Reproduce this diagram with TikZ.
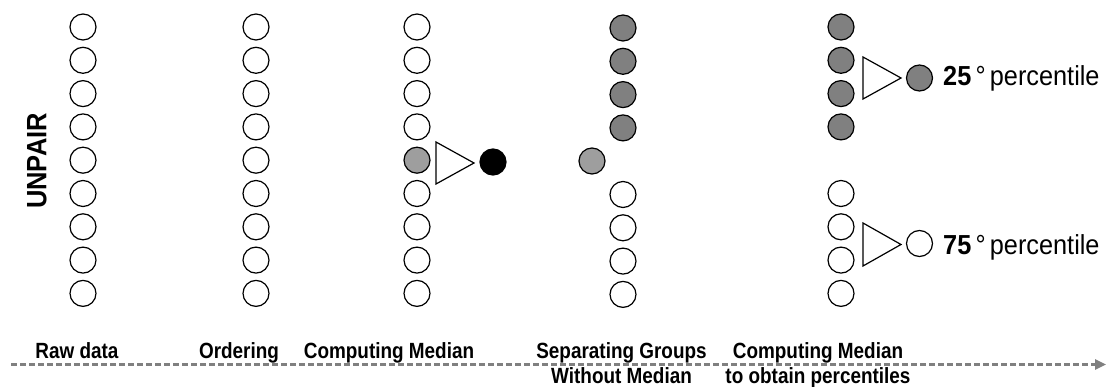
\documentclass[tikz,border=0pt]{standalone}
\usepackage{fontspec}
\setmainfont{Liberation Sans}
\usepackage{graphicx}
\usetikzlibrary{arrows.meta}
\newcommand\narrowtxt[2]{\scalebox{#1}[1]{#2}}
\tikzset{
  dot/.style={circle, draw=black, line width=1.2pt, minimum size=26pt, inner sep=0pt, fill=white},
  dotgray/.style={dot, fill=black!50},
  dotmed/.style={dot, fill=black!38},
  dotblack/.style={dot, fill=black},
  tri/.style={draw=black, line width=1.2pt, fill=white, line join=miter},
  lbl/.style={inner sep=0pt, anchor=base, font=\bfseries\fontsize{22}{24}\selectfont},
  pct/.style={inner sep=0pt, anchor=base west, font=\fontsize{27.5}{30}\selectfont},
  timeline/.style={draw=black!50, line width=2.5pt, dash pattern=on 6pt off 3pt, -{Triangle[length=11pt,width=10pt]}}
}
\begin{document}
\begin{tikzpicture}[x=1pt,y=-1pt]
\useasboundingbox (0,0) rectangle (1106,387);
% columns 1 and 2: all white
\foreach \k in {1,...,9}{
  \node[dot] (a\k) at (83,{27+33.3*(\k-1)}) {};
  \node[dot] (b\k) at (256,{27+33.3*(\k-1)}) {};
}
% column 3
\foreach \k in {1,2,3,4,6,7,8,9}{
  \node[dot] (c\k) at (417,{27+33.3*(\k-1)}) {};
}
\node[dotmed] (c5) at (417,160.2) {};
\draw[tri] (436,142) -- (436,184) -- (474,163) -- cycle;
\node[dotblack] (cm) at (493,162) {};
% column 4
\foreach \k in {1,2,3,4}{
  \node[dotgray] (d\k) at (623,{28+33.3*(\k-1)}) {};
}
\foreach \k in {6,7,8,9}{
  \node[dot] (d\k) at (623,{28+33.3*(\k-1)}) {};
}
\node[dotmed] (dm) at (592,161) {};
% column 5
\foreach \k in {1,2,3,4}{
  \node[dotgray] (e\k) at (841,{27+33.3*(\k-1)}) {};
}
\foreach \k in {6,7,8,9}{
  \node[dot] (e\k) at (841,{27+33.3*(\k-1)}) {};
}
\draw[tri] (863,57) -- (863,99) -- (901,78) -- cycle;
\draw[tri] (863,223) -- (863,266) -- (901,244.5) -- cycle;
\node[dotgray] (q25) at (919.5,78) {};
\node[dot] (q75) at (919.5,243.5) {};
\node[pct] (t25) at (943,86) {\narrowtxt{0.92}{{\bfseries 25}\,°\,percentile}};
\node[pct] (t75) at (943,255) {\narrowtxt{0.92}{{\bfseries 75}\,°\,percentile}};
% side label
\node[inner sep=0pt, rotate=90, font=\bfseries\fontsize{28}{30}\selectfont] (unpair) at (37,161) {\narrowtxt{0.91}{UNPAIR}};
% timeline
\coordinate (tl0) at (11,364.5);
\coordinate (tl1) at (1106,364.5);
\draw[timeline] (tl0) -- (tl1);
% step labels
\node[lbl] (l1) at (77,358.5) {\narrowtxt{0.86}{Raw data}};
\node[lbl] (l2) at (239,358.5) {\narrowtxt{0.86}{Ordering}};
\node[lbl] (l3) at (389,358.5) {\narrowtxt{0.86}{Computing Median}};
\node[lbl] (l4) at (621.5,358.5) {\narrowtxt{0.86}{Separating Groups}};
\node[lbl] (l4b) at (621.5,383.5) {\narrowtxt{0.86}{Without Median}};
\node[lbl] (l5) at (818,358.5) {\narrowtxt{0.86}{Computing Median}};
\node[lbl] (l5b) at (818,383.5) {\narrowtxt{0.86}{to obtain percentiles}};
\end{tikzpicture}
\end{document}
